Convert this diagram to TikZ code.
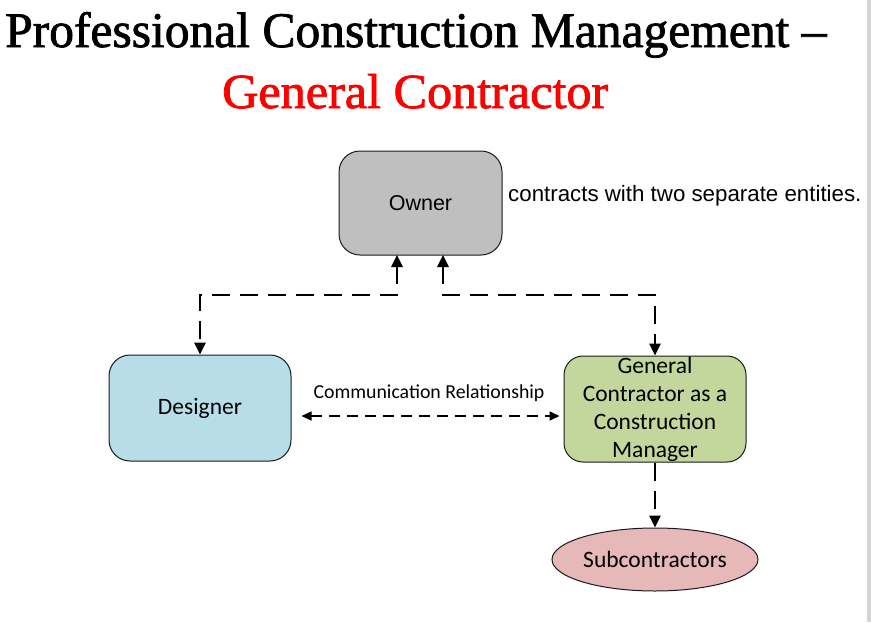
\documentclass[tikz,border=0pt]{standalone}
\usepackage{fontspec}
\usepackage{graphicx}
\setmainfont{Liberation Serif}
\newfontfamily\titlef[FakeBold=1.6]{Liberation Serif}
\newfontfamily\arialf{Liberation Sans}
\newfontfamily\calf{Carlito}
\usetikzlibrary{arrows.meta,shapes.geometric}
\definecolor{ownerfill}{HTML}{BFBFBF}
\definecolor{desfill}{HTML}{B7DEE8}
\definecolor{gcfill}{HTML}{C3D69B}
\definecolor{subfill}{HTML}{E6B9B8}
\definecolor{edgegray}{HTML}{D4D4D4}
\definecolor{bordc}{HTML}{1A1A1A}
\tikzset{
  boxst/.style={draw=bordc, line width=1pt, rounded corners=21pt, inner sep=0pt, align=center},
  conn/.style={line width=2.6pt, dash pattern=on 18pt off 10pt, -{Triangle[length=12pt,width=11pt]}},
  connboth/.style={conn, {Triangle[length=12pt,width=11pt]}-{Triangle[length=12pt,width=11pt]}},
  commst/.style={line width=1.6pt, dash pattern=on 11pt off 7pt, {Triangle[length=10pt,width=9pt]}-{Triangle[length=10pt,width=9pt]}}
}
\begin{document}
\begin{tikzpicture}[x=1pt,y=-1pt]
\useasboundingbox (0,0) rectangle (871,622);
\fill[edgegray] (867,0) rectangle (871,622);
% titles
\node[anchor=base west, inner sep=0pt, font=\titlef] (t1) at (5,47) {\resizebox{821pt}{35pt}{Professional Construction Management –}};
\node[anchor=base west, inner sep=0pt, text=red, font=\titlef] (t2) at (222,108) {\resizebox{386pt}{34pt}{General Contractor}};
% nodes
\node[boxst, fill=ownerfill, minimum width=163pt, minimum height=104pt, font=\arialf\fontsize{21.5}{26}\selectfont] (owner) at (420.5,203) {Owner};
\node[anchor=west, inner sep=0pt, font=\arialf\fontsize{22.3}{26}\selectfont] (note) at (508,196) {contracts with two separate entities.};
\node[boxst, fill=desfill, minimum width=182pt, minimum height=106pt, font=\calf\fontsize{23.5}{28}\selectfont] (des) at (200,408) {Designer};
\node[boxst, fill=gcfill, rounded corners=19pt, minimum width=182pt, minimum height=106pt, font=\calf\fontsize{23.5}{28}\selectfont] (gc) at (655,409) {General\\Contractor as a\\Construction\\Manager};
\node[ellipse, draw=bordc, line width=1pt, fill=subfill, minimum width=206pt, minimum height=63pt, inner sep=0pt, font=\calf\fontsize{23.5}{28}\selectfont] (sub) at (655,559.5) {Subcontractors};
\node[inner sep=0pt, font=\calf\fontsize{19.8}{24}\selectfont] (comm) at (429,393) {Communication Relationship};
% connectors
\coordinate (oL) at (397,255);
\coordinate (oR) at (443,255);
\draw[connboth] (oL) -- ++(0,40) -| (des.north);
\draw[connboth] (oR) -- ++(0,40) -| (gc.north);
\draw[commst] ([xshift=10pt]des.east |- 0,416) -- ([xshift=-4pt]gc.west |- 0,416);
\draw[conn] (gc.south) -- (sub.north);
\end{tikzpicture}
\end{document}
